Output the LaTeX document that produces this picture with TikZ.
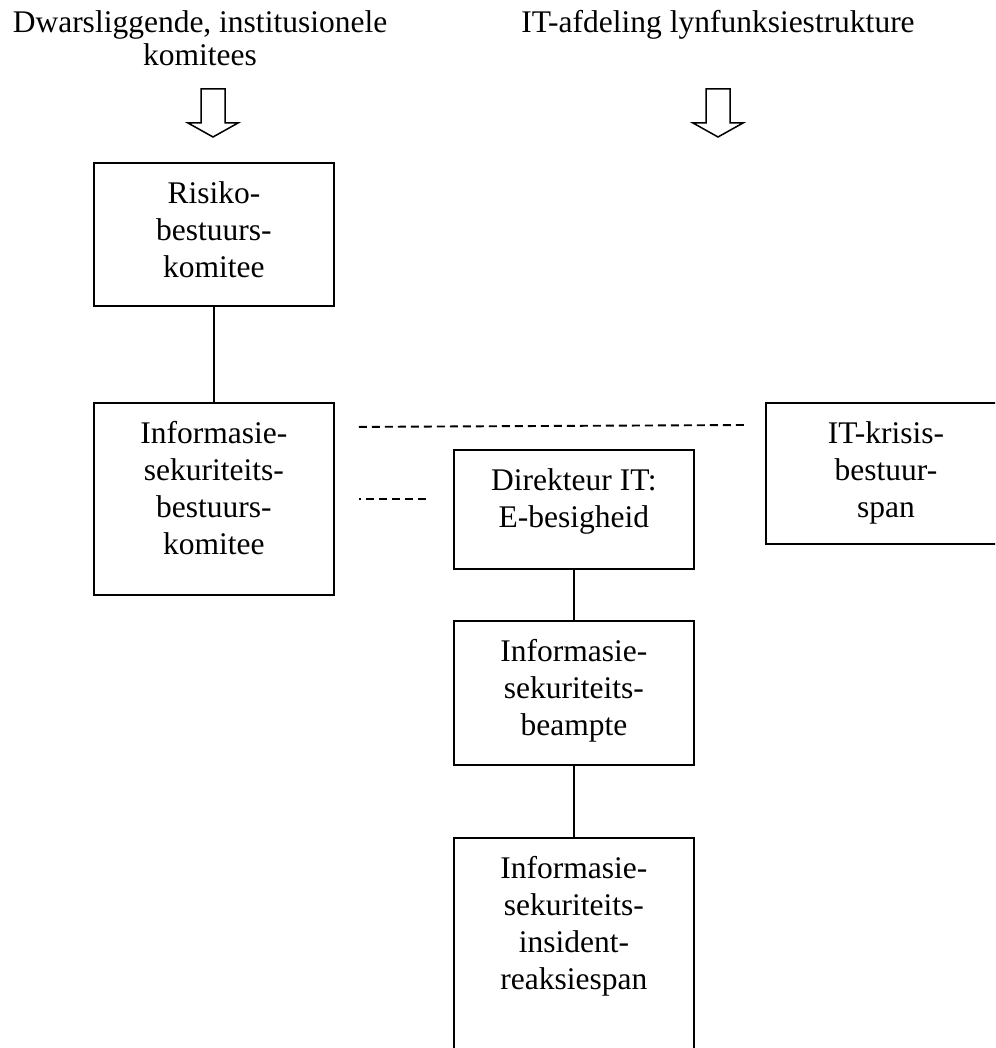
\documentclass[tikz,border=0pt]{standalone}
\usepackage{fontspec}
\setmainfont{Liberation Serif}
\usetikzlibrary{positioning}

\newcommand{\boxtxt}[2]{\parbox[t][#1][t]{240pt}{\centering\rule{0pt}{41pt}#2}}

\begin{document}
\begin{tikzpicture}[
        x=1pt, y=-1pt,
        node distance=50pt,
        every node/.style={font=\fontsize{31.5}{37}\selectfont},
        orgbox/.style={draw, line width=1.9pt, inner sep=0pt},
        heading/.style={align=center, inner sep=0pt, anchor=north, font=\fontsize{31.5}{33}\selectfont},
        link/.style={line width=1.9pt},
        dashline/.style={line width=1.9pt, dash pattern=on 8pt off 5pt},
        downarrow/.pic={\draw[line width=1.5pt] (-12,0) -- (12,0) -- (12,34) -- (25,34) -- (0,48) -- (-25,34) -- (-12,34) -- cycle;}
    ]
    \clip (0,0) rectangle (995,1048);

    % Headings
    \node[heading] (lefthead) at (200,10) {Dwarsliggende, institusionele\\komitees};
    \node[heading] (righthead) at (718,10) {IT-afdeling lynfunksiestrukture};
    \pic at (213,89) {downarrow};
    \pic at (718,89) {downarrow};

    % Nodes
    \node[orgbox, anchor=north west] (risk) at (93,162) {\boxtxt{143pt}{Risiko-\\bestuurs-\\komitee}};
    \node[orgbox, below=95pt of risk] (infocom) {\boxtxt{192pt}{Informasie-\\sekuriteits-\\bestuurs-\\komitee}};
    \node[orgbox, anchor=north west] (crisis) at (765,402) {\boxtxt{141pt}{IT-krisis-\\bestuur-\\span}};
    \node[orgbox, anchor=north west] (director) at (453,449) {\boxtxt{119pt}{Direkteur IT:\\E-besigheid}};
    \node[orgbox, below=of director] (officer) {\boxtxt{144pt}{Informasie-\\sekuriteits-\\beampte}};
    \node[orgbox, below=71pt of officer] (response) {\boxtxt{250pt}{Informasie-\\sekuriteits-\\insident-\\reaksiespan}};

    % Lines
    \draw[link] (risk) -- (infocom);
    \draw[link] (director) -- (officer);
    \draw[link] (officer) -- (response);
    \draw[dashline] ([shift={(24,25)}]infocom.north east) -- ([shift={(-20,23)}]crisis.north west);
    \draw[dashline, dash phase=6pt] ([xshift=24pt]infocom.east) -- ([xshift=-23pt]infocom.east -| director.west);
\end{tikzpicture}
\end{document}
